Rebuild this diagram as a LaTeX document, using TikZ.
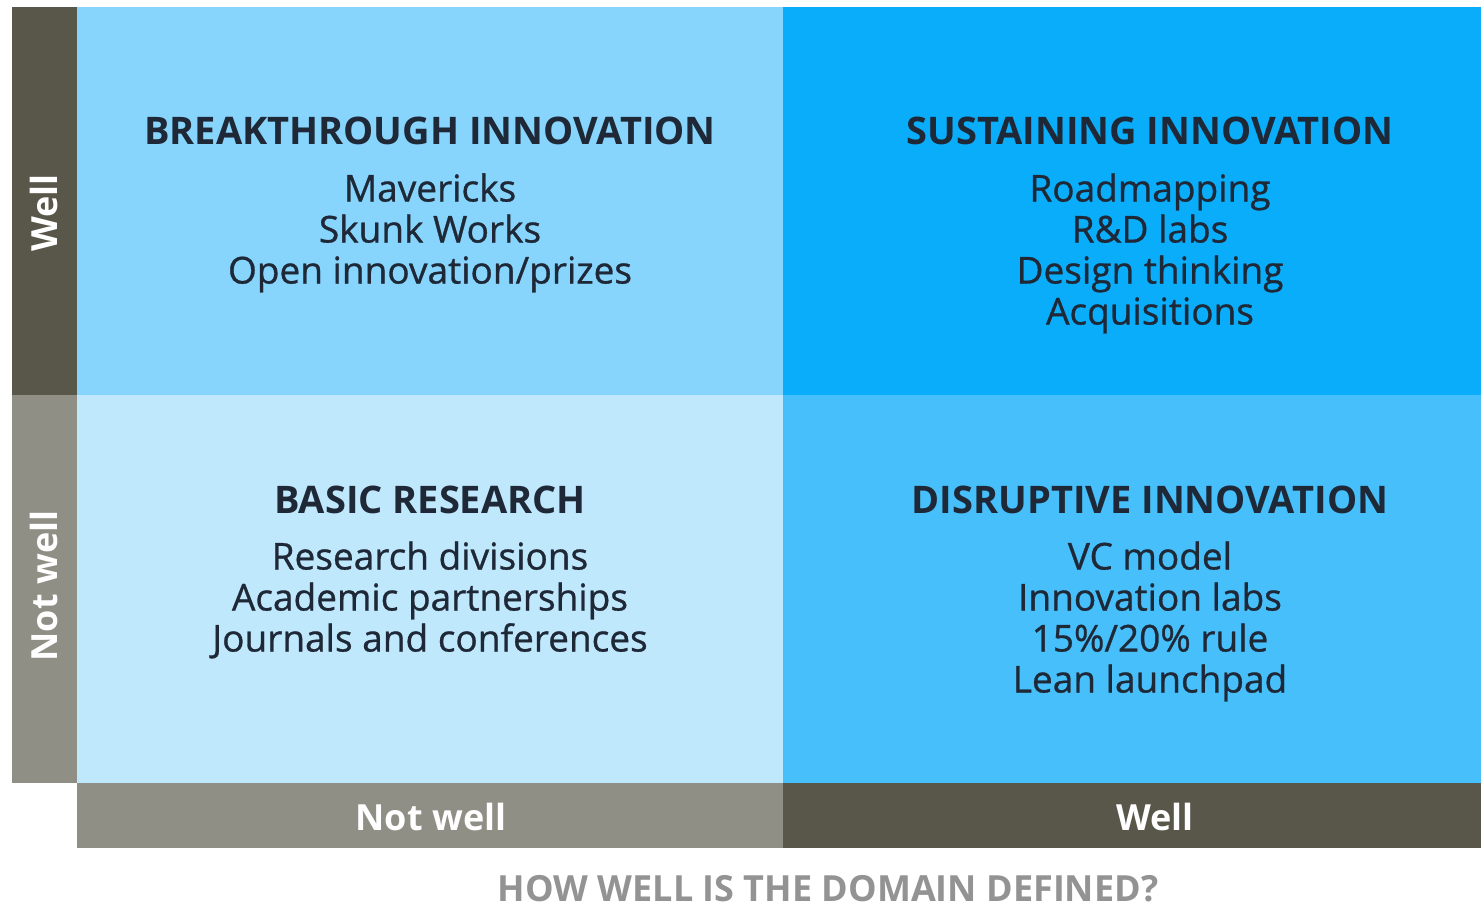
\documentclass[tikz,border=0pt]{standalone}
\usepackage{fontspec}
\setmainfont{Open Sans}
\definecolor{barDark}{HTML}{59574A}
\definecolor{barGrey}{HTML}{8F8F86}
\definecolor{quadTL}{HTML}{87D4FC}
\definecolor{quadTR}{HTML}{0AADFA}
\definecolor{quadBL}{HTML}{C0E8FD}
\definecolor{quadBR}{HTML}{47BFFA}
\definecolor{inkNavy}{HTML}{1E2836}
\definecolor{axisGrey}{HTML}{939393}
\tikzset{
  quadtitle/.style={font=\fontsize{19}{24}\selectfont\bfseries, text=inkNavy, anchor=base},
  quadbody/.style={font=\fontsize{18.5}{20.5}\selectfont\addfontfeature{FakeBold=0.8},
    text=inkNavy, align=center, anchor=north, inner sep=0pt},
  barlabel/.style={font=\fontsize{18}{22}\selectfont\bfseries, text=white},
}
\begin{document}
\begin{tikzpicture}[x=0.5pt,y=-0.5pt]
    \useasboundingbox (0,0) rectangle (1481,908);
    \fill[white] (0,0) rectangle (1481,908);

    % quadrants
    \fill[quadTL] (77,7) rectangle (783,395);
    \fill[quadTR] (783,7) rectangle (1481,395);
    \fill[quadBL] (77,395) rectangle (783,783);
    \fill[quadBR] (783,395) rectangle (1481,783);

    % axis bars
    \fill[barDark] (12,7) rectangle (77,395);
    \fill[barGrey] (12,395) rectangle (77,783);
    \fill[barGrey] (77,783) rectangle (783,848);
    \fill[barDark] (783,783) rectangle (1481,848);

    \node[barlabel, rotate=90] (yWell) at (44,213) {Well};
    \node[barlabel, rotate=90] (yNotWell) at (44,586) {Not well};
    \node[barlabel] (xNotWell) at (431,817) {Not well};
    \node[barlabel] (xWell) at (1155,817) {Well};

    \node[font=\fontsize{18}{20}\selectfont\bfseries, text=axisGrey] (xTitle) at (828,889)
      {HOW WELL IS THE DOMAIN DEFINED?};

    % top row
    \node[quadtitle] (breakTitle) at (430,145) {BREAKTHROUGH INNOVATION};
    \node[quadbody] (breakBody) at (430,173)
      {Mavericks\\Skunk Works\\Open innovation/prizes};
    \node[quadtitle] (sustTitle) at (1150,145) {SUSTAINING INNOVATION};
    \node[quadbody] (sustBody) at (1150,173)
      {Roadmapping\\R\&D labs\\Design thinking\\Acquisitions};

    % bottom row
    \node[quadtitle] (basicTitle) at (430,513) {BASIC RESEARCH};
    \node[quadbody] (basicBody) at (430,541)
      {Research divisions\\Academic partnerships\\Journals and conferences};
    \node[quadtitle] (disrTitle) at (1150,513) {DISRUPTIVE INNOVATION};
    \node[quadbody] (disrBody) at (1150,541)
      {VC model\\Innovation labs\\15\%/20\% rule\\Lean launchpad};
\end{tikzpicture}
\end{document}
